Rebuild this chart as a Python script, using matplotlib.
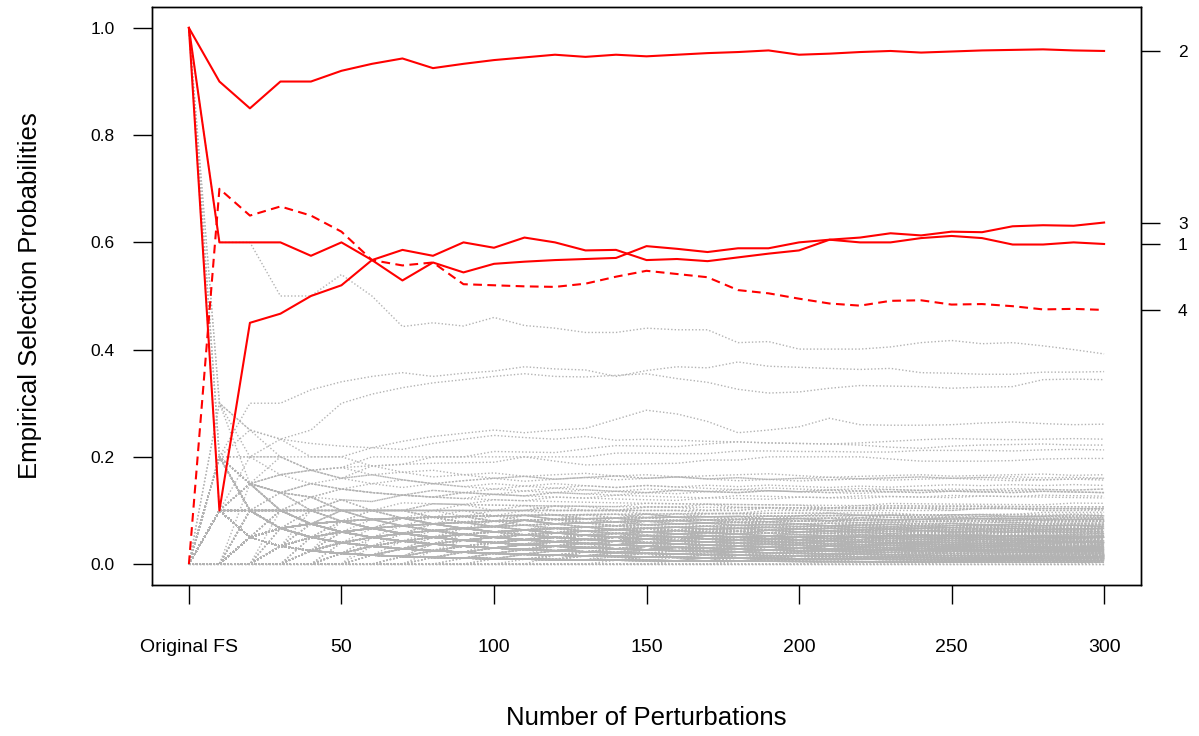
import numpy as np
import matplotlib
matplotlib.use("Agg")
import matplotlib.pyplot as plt

plt.rcParams['font.family'] = ['Liberation Sans', 'DejaVu Sans']

# ---------------- data ----------------
n_perturb = list(range(0, 301, 10))          # 0 = original feature selection
x_tick_pos = [0, 50, 100, 150, 200, 250, 300]
x_tick_labels = ["Original FS", "50", "100", "150", "200", "250", "300"]
y_ticks = [0.0, 0.2, 0.4, 0.6, 0.8, 1.0]
y_tick_labels = ["0.0", "0.2", "0.4", "0.6", "0.8", "1.0"]

red_names = ["1", "2", "3", "4"]
red_1 = [1.0, 0.6, 0.6, 0.6, 0.575, 0.6, 0.567, 0.529, 0.5625, 0.544, 0.56, 0.564,
         0.567, 0.569, 0.571, 0.593, 0.588, 0.582, 0.589, 0.589, 0.6, 0.605, 0.6,
         0.6, 0.608, 0.612, 0.608, 0.596, 0.596, 0.6, 0.597]
red_2 = [1.0, 0.9, 0.85, 0.9, 0.9, 0.92, 0.933, 0.943, 0.925, 0.933, 0.94, 0.945,
         0.95, 0.946, 0.95, 0.947, 0.95, 0.953, 0.955, 0.958, 0.95, 0.952, 0.955,
         0.957, 0.954, 0.956, 0.958, 0.959, 0.96, 0.958, 0.957]
red_3 = [1.0, 0.1, 0.45, 0.467, 0.5, 0.52, 0.567, 0.586, 0.575, 0.6, 0.59, 0.609,
         0.6, 0.585, 0.586, 0.567, 0.569, 0.565, 0.572, 0.579, 0.585, 0.605, 0.609,
         0.617, 0.613, 0.62, 0.619, 0.63, 0.632, 0.631, 0.637]
red_4 = [0.0, 0.7, 0.65, 0.667, 0.65, 0.62, 0.567, 0.557, 0.5625, 0.522, 0.52, 0.518,
         0.517, 0.523, 0.536, 0.547, 0.541, 0.535, 0.511, 0.505, 0.495, 0.486, 0.482,
         0.491, 0.492, 0.484, 0.485, 0.481, 0.475, 0.476, 0.474]
red_styles = ["solid", "solid", "solid", "dashed"]

# upper (clearly visible) grey features: selection probabilities
gray_upper = [
    [1.0, 0.6, 0.6, 0.5, 0.5, 0.54, 0.5, 0.443, 0.45, 0.444, 0.46, 0.445, 0.44, 0.432,
     0.432, 0.44, 0.437, 0.437, 0.413, 0.415, 0.401, 0.401, 0.401, 0.405, 0.413, 0.417,
     0.411, 0.413, 0.407, 0.4, 0.392],
    [0.0, 0.2, 0.3, 0.3, 0.325, 0.34, 0.35, 0.357, 0.35, 0.356, 0.36, 0.368, 0.364,
     0.362, 0.35, 0.361, 0.368, 0.366, 0.377, 0.369, 0.367, 0.365, 0.363, 0.365, 0.357,
     0.356, 0.354, 0.354, 0.358, 0.358, 0.359],
    [0.0, 0.1, 0.2, 0.233, 0.25, 0.3, 0.317, 0.329, 0.338, 0.344, 0.35, 0.355, 0.35,
     0.349, 0.352, 0.355, 0.346, 0.339, 0.326, 0.319, 0.321, 0.328, 0.333, 0.332, 0.331,
     0.328, 0.33, 0.331, 0.344, 0.345, 0.344],
    [0.0, 0.1, 0.15, 0.2, 0.2, 0.2, 0.217, 0.229, 0.238, 0.244, 0.25, 0.245, 0.25,
     0.253, 0.27, 0.287, 0.28, 0.266, 0.245, 0.25, 0.256, 0.272, 0.26, 0.259, 0.259,
     0.26, 0.263, 0.265, 0.262, 0.26, 0.261],
    [0.0, 0.2, 0.25, 0.233, 0.225, 0.22, 0.217, 0.214, 0.225, 0.233, 0.24, 0.236, 0.233,
     0.238, 0.231, 0.233, 0.231, 0.229, 0.228, 0.226, 0.225, 0.224, 0.226, 0.229, 0.232,
     0.234, 0.233, 0.232, 0.233, 0.234, 0.233],
    [0.0, 0.1, 0.15, 0.167, 0.175, 0.18, 0.2, 0.2, 0.2, 0.2, 0.21, 0.209, 0.208, 0.215,
     0.221, 0.22, 0.219, 0.224, 0.228, 0.226, 0.225, 0.224, 0.222, 0.218, 0.216, 0.22,
     0.222, 0.223, 0.224, 0.222, 0.222],
    [0.0, 0.3, 0.25, 0.233, 0.2, 0.2, 0.183, 0.186, 0.188, 0.189, 0.19, 0.2, 0.2, 0.2,
     0.207, 0.207, 0.206, 0.206, 0.211, 0.211, 0.21, 0.21, 0.209, 0.209, 0.212, 0.212,
     0.212, 0.211, 0.213, 0.214, 0.213],
    [0.0, 0.1, 0.15, 0.133, 0.15, 0.16, 0.183, 0.186, 0.2, 0.2, 0.2, 0.2, 0.192, 0.185,
     0.186, 0.187, 0.188, 0.194, 0.194, 0.2, 0.2, 0.2, 0.2, 0.196, 0.192, 0.192, 0.192,
     0.193, 0.196, 0.197, 0.197],
]

# remaining grey features: (selected in original FS, selections per block of 10 perturbations)
gray_counts = [
    (0, "2221122121" "2122121121" "2222121122"),
    (0, "1211211121" "1221211121" "2121121212"),
    (1, "3121221212" "1221121212" "1212211221"),
    (0, "1112112121" "2112121211" "2211212112"),
    (0, "0121212112" "1211212121" "1211211211"),
    (0, "2212111211" "1211121121" "1121211211"),
    (1, "1101211111" "1201111121" "1111210111"),
    (0, "2111011211" "1111211011" "1211111111"),
    (0, "1011121101" "2111011121" "1111121111"),
    (0, "0112111012" "1111111210" "2111111011"),
    (0, "1210111121" "1011211111" "1121111111"),
    (0, "2101110111" "1111012111" "1110111211"),
    (0, "1011101111" "1101111011" "1111011101"),
    (0, "0111111011" "1110111110" "1011111111"),
    (0, "1010110101" "1011010110" "1011011010"),
    (0, "0101101011" "0110101101" "0101101101"),
    (0, "1100101101" "0111010101" "1011010101"),
    (1, "2010101011" "0101110101" "1010110110"),
    (0, "0110011101" "1010101011" "0110101011"),
    (0, "1011011001" "1101011010" "1101010110"),
    (0, "0021010111" "1010111010" "1101101011"),
    (0, "1101010110" "0110110101" "1011011101"),
    (0, "1010111010" "1101101101" "1110110101"),
    (0, "0111010110" "1011101101" "1101111010"),
    (0, "1001010010" "1001010100" "1010010010"),
    (0, "0100101001" "0100100101" "0010101001"),
    (0, "1010010100" "1000101001" "0101001010"),
    (0, "0011001010" "0101001010" "1001010100"),
    (0, "0101000101" "0010100101" "0100101001"),
    (1, "2000100101" "0100100100" "1010010010"),
    (0, "0100110010" "1010010010" "0101001010"),
    (0, "1001001100" "1001001010" "1001010101"),
    (0, "0110010100" "1010100101" "0101010010"),
    (0, "1010101001" "0101010010" "1010101001"),
    (0, "0101010101" "0101001010" "1010100101"),
    (0, "1000101010" "1010101010" "0101010101"),
    (0, "1000100010" "0010001000" "1000100010"),
    (0, "0100010001" "0001000100" "0100010001"),
    (0, "0010001000" "1000100010" "0010001000"),
    (0, "1001000100" "0100010001" "0001000100"),
    (0, "0001001000" "1001000100" "1000010010"),
    (0, "0100100010" "0010010001" "0010010010"),
    (0, "2000010000" "1000010000" "1000100001"),
    (0, "0010000100" "0010001000" "0100001000"),
    (0, "1000001000" "0100000100" "0010000010"),
    (0, "0000100001" "0000100010" "0001000100"),
    (0, "0100001000" "0100010000" "1000010001"),
    (0, "1000010000" "0010000100" "0001000010"),
    (0, "0010010000" "1000010010" "0000100100"),
    (0, "0001000010" "0001000100" "0010001000"),
    (0, "1000000000" "0000100000" "0000000100"),
    (0, "0100000000" "0000000010" "0000010000"),
    (0, "0000100000" "0000001000" "0100000000"),
    (0, "0000000100" "0100000000" "0000001000"),
    (0, "0010000000" "0000000001" "0000100000"),
    (0, "0000010000" "0010000000" "0000000010"),
    (0, "1000000000" "0000000000" "0000000000"),
    (0, "0100000000" "0000000000" "0000000000"),
    (0, "0010000000" "0000000000" "0000001000"),
    (0, "0001000000" "0000000000" "0000000000"),
    (0, "0000000000" "0000000000" "0000000000"),
    (0, "0000100000" "0000000000" "0000000001"),
    (1, "2000000000" "0000000000" "0000000000"),
    (0, "1000000000" "0000000000" "0000000000"),
    (0, "1110101101" "0110110110" "1011011011"),
    (0, "0201011010" "1101011010" "1101101011"),
    (0, "1011100110" "1011010111" "0110111011"),
    (0, "0110111101" "1101110110" "1110110111"),
    (0, "1101111011" "0111101110" "1101111101"),
    (0, "2110111011" "1011110111" "0111111011"),
    (0, "1111011110" "1111101111" "1011111101"),
    (0, "0111111111" "1111101111" "1111111011"),
    (0, "1212111111" "1111111111" "0111111111"),
    (0, "1101011101" "0111011011" "1101110101"),
    (0, "0010101001" "0100101010" "1010010100"),
    (0, "1001010001" "0010100101" "0101001001"),
    (0, "0101001000" "1001001001" "0010100100"),
    (0, "1000101000" "1010010001" "0100100101"),
    (0, "0010010100" "0100100101" "0100100100"),
    (0, "0100100100" "1001001000" "1001001001"),
    (0, "1001001001" "0100100100" "1001001000"),
    (0, "0011000100" "1000110000" "0100100010"),
    (0, "1100010000" "1000100100" "0100010010"),
    (0, "0000110010" "0100010001" "1000100010"),
    (0, "2010001000" "0100100010" "0010010001"),
    (0, "0101000110" "0010100100" "0101000101"),
    (0, "0001000100" "0000100001" "0001000001"),
    (0, "1000000010" "0001000000" "0100000100"),
    (0, "0000010000" "0100000001" "0000010000"),
    (0, "0100000001" "0000010000" "0100000010"),
    (0, "0000100000" "0001000000" "0000000100"),
    (0, "0010000010" "0000000100" "0001000000"),
    (0, "1000010000" "0000000001" "0000100000"),
    (0, "0000001000" "1000000000" "0001000001"),
    (0, "0001000000" "0000001000" "0000000000"),
    (0, "0000000010" "0000000000" "0100000000"),
    (0, "0000000000" "0000010000" "0000000000"),
    (0, "0000000000" "0000000000" "0000000000"),
    (0, "0000000000" "0000000000" "0000100000"),
    (0, "1100000000" "0000000000" "0000000000"),
    (0, "1111201111" "2111112111" "1121111121"),
    (0, "2112111211" "1112111211" "1211121111"),
    (0, "1021112112" "1211112112" "1121211211"),
    (1, "3211211112" "1211211121" "1112112111"),
    (0, "1121211212" "2121212121" "1212212121"),
    (0, "2122121122" "1221221212" "2122122121"),
    (0, "1221122122" "2122212221" "1222122212"),
]

# the many rarely selected features (same encoding)
gray_counts_low = [
    (0, "1000000100" "0001000000" "0010000010"),
    (0, "0000001000" "0100000010" "0000100000"),
    (0, "0100000000" "0010000100" "0000000101"),
    (0, "0000100000" "0000100000" "1000000010"),
    (0, "1000001000" "0000000010" "0100000000"),
    (0, "0000000100" "0010000000" "0001001000"),
    (0, "0010000000" "1000000100" "0000010001"),
    (0, "0001000000" "0000010000" "1000000100"),
    (0, "0000010001" "0000000000" "0010000100"),
    (0, "1000000000" "1000001000" "0000100001"),
    (0, "0000000010" "0001000000" "0000000010"),
    (0, "0100001000" "0000000001" "0000100000"),
    (0, "0000000001" "0000100000" "0001000100"),
    (0, "0010000100" "0000000100" "0100000001"),
    (0, "1000000000" "0000000010" "0000100000"),
    (0, "0000100100" "0000000000" "1000001000"),
    (0, "0001000001" "0001000000" "0000000100"),
    (0, "0100000000" "0000100000" "0000000010"),
    (0, "0000001000" "0000000100" "0000100010"),
    (0, "1000100000" "0000000000" "0010000001"),
    (0, "0000000000" "1000000010" "0000000100"),
    (0, "0010000000" "0000000000" "0000010000"),
    (0, "0000010000" "0000000001" "0010000010"),
    (0, "0100000100" "0010000000" "1000000000"),
    (0, "0000000000" "0000000000" "1000000000"),
    (0, "1000000000" "0100000000" "0000000000"),
    (0, "0001000000" "0000000010" "0000001001"),
    (0, "0000000100" "0000001000" "0000000000"),
    (0, "0000100000" "1000000001" "0000000100"),
    (0, "0100010000" "0000100000" "0001000000"),
    (0, "1001000100" "0100100001" "0010010010"),
    (0, "0010100010" "0010001000" "1000100100"),
    (0, "1000010001" "0001001000" "0100010001"),
    (0, "0100100100" "0010000100" "1001000010"),
    (0, "0001001000" "1000100010" "0010001001"),
    (0, "1010000100" "0100010000" "1000100100"),
    (0, "0100010010" "0001000100" "0100100010"),
    (0, "0010001000" "1000010010" "0001000100"),
    (0, "1001001000" "0100100100" "0010010010"),
    (0, "0100001001" "0010010000" "1001000100"),
    (0, "2001000100" "0010100010" "0100010001"),
    (0, "0010010100" "1000100100" "0010100010"),
    (0, "1000100010" "0101000100" "1000100100"),
    (0, "0101000010" "0010001001" "0100100010"),
    (0, "0001010001" "0100100010" "1000101000"),
    (0, "1100100010" "0100010100" "1001001001"),
    (0, "0010101000" "1001000101" "0010100100"),
    (0, "1000100101" "0010010010" "1001001000"),
    (0, "0101001000" "1000101001" "0100010010"),
    (0, "1010010010" "0100100100" "0101001010"),
    (0, "0110001001" "0010100101" "0100101001"),
    (0, "1001010010" "1001001010" "0100100101"),
    (0, "0100101010" "0101001010" "1010010010"),
    (0, "2010010001" "0010010100" "1001001010"),
    (0, "0001100100" "1000010001" "0101001000"),
    (0, "1000010100" "0100101000" "1001010010"),
    (0, "0010100001" "0100010010" "1000100100"),
    (0, "0100010100" "1010001000" "0100010100"),
    (0, "1001000010" "0100100001" "0010010001"),
    (0, "0010010001" "0010001000" "1000100010"),
    (0, "1000001010" "0010010000" "0100010001"),
    (0, "0001010000" "1000100010" "0100100010"),
    (0, "0100100001" "0001001000" "1000010010"),
    (0, "1010000010" "0001000100" "0010001000"),
    (0, "0000101000" "1001000100" "0100100100"),
    (0, "0100010010" "0100100100" "1001001001"),
    (0, "1001001010" "0010010010" "0100100100"),
    (0, "0010100100" "1001001001" "0010010100"),
    (0, "0101001001" "0010100100" "1010010010"),
    (0, "1000110000" "0101000100" "0010100101"),
    (0, "1011001010" "0101010010" "1010101010"),
    (0, "0101010101" "1010010101" "0101010101"),
    (0, "1100101010" "0101101010" "1010010110"),
    (0, "0110010101" "1010101001" "0101101010"),
    (0, "1010101100" "0101010101" "1011010101"),
    (0, "0101100101" "1010101010" "0101011010"),
    (0, "2010101010" "1010101001" "0101010110"),
    (0, "1001011010" "0110100101" "1010101001"),
    (0, "0110101001" "0101010110" "1001010101"),
    (0, "1010010101" "1001101010" "0110100101"),
    (0, "0101010010" "1010010101" "0101010010"),
    (0, "1010100101" "0100101010" "1010100100"),
    (0, "0100101010" "1010100101" "0101001010"),
    (0, "1001010101" "0101001010" "1010010101"),
    (0, "0110100100" "1010101010" "0101010101"),
    (0, "1010101011" "0101101010" "1101010110"),
    (0, "0111010101" "1010110101" "0110101101"),
    (0, "1101011010" "1011010101" "1010110101"),
    (0, "0101101101" "0110101011" "0101101011"),
    (0, "1011010110" "1101011010" "1011011010"),
    (0, "2101011010" "0110101101" "1010110110"),
    (0, "0110110101" "1011010110" "1101011011"),
    (0, "1010110110" "1011011011" "0110110110"),
    (0, "1101101011" "0110110101" "1011011010"),
    (0, "0101011011" "1010110101" "1101011010"),
    (0, "1010100110" "0101010101" "0101010101"),
    (0, "0101001101" "0101010101" "1010101010"),
    (0, "1100100101" "0101001101" "0101010101"),
    (0, "0011010101" "0101011010" "1010101001"),
    (0, "1010011001" "0101010101" "1010100110"),
    (0, "0101010101" "1001010101" "0110101011"),
    (0, "1001101010" "0110101010" "1011010101"),
    (0, "0110010110" "1010101010" "1010010101"),
    (0, "1010101001" "0101010110" "0101101010"),
    (0, "1011010101" "0101011010" "1010110101"),
    (0, "1101101111" "0111011101" "1011101110"),
    (0, "0111011101" "1101110111" "0111011101"),
    (0, "1110111011" "1011101110" "1110111011"),
    (0, "1011101110" "1110111011" "1011101111"),
    (0, "2101110111" "0111011101" "1101110111"),
    (0, "1111011101" "1101111011" "1011110111"),
    (0, "0111110111" "1011111011" "1110111110"),
    (0, "1101111110" "1111011111" "0111101111"),
    (0, "1011111101" "1101111101" "1111011110"),
    (0, "2111011111" "1011111101" "1111101111"),
    (0, "1111111011" "1111011111" "1101111111"),
    (0, "0111111111" "1101111111" "1111110111"),
    (0, "1121011111" "1111110111" "1011111111"),
    (0, "1011011011" "0110110110" "1101101101"),
    (0, "0110110110" "1101101101" "0110110110"),
    (0, "1101101101" "1011011011" "1011011011"),
    (0, "1110110110" "1101101101" "1011011011"),
    (0, "2110101101" "1011011011" "0110110111"),
    (0, "1011011010" "1101101101" "1101101101"),
    (0, "0111011011" "1011011011" "0110110111"),
    (0, "0200010020" "0001200010" "0300001002"),
    (0, "0010300100" "2000010010" "0001020001"),
    (0, "1002000010" "0020001000" "1000300010"),
    (0, "0000200100" "1002000001" "0020010200"),
    (0, "3000010000" "0200000100" "0010002000"),
    (0, "0100002000" "0010000200" "1000000100"),
    (0, "0020000100" "0000200000" "0100010001"),
    (0, "2001000000" "1000020000" "0002000100"),
    (0, "0002010000" "0100000020" "0000100020"),
    (0, "1000200010" "0300000100" "0001002000"),
    (0, "0200102000" "0010200100" "2000100020"),
    (0, "0120010200" "1000210010" "0200100201"),
    (0, "1020102010" "2010100201" "0201020100"),
    (0, "2102010210" "1020201020" "1201020102"),
    (0, "0210201020" "2010210201" "0210201020"),
    (0, "1201020120" "1020120102" "2010210120"),
    (0, "0030100200" "1000300100" "0200100300"),
    (0, "1003000200" "0100200010" "0030001002"),
    (0, "0000030000" "0200000010" "0000300000"),
    (0, "0100000000" "0020000000" "0000000200"),
    (0, "0000000200" "0000001000" "0200000000"),
    (0, "2000000000" "0000200000" "0000000010"),
    (0, "0001000000" "0000000200" "0001000100"),
    (0, "0000020000" "0100000000" "0000020000"),
    (0, "0300000000" "0000000100" "0000000000"),
    (0, "0000000000" "0200000000" "0000000100"),
    (0, "0000001000" "0000000000" "0000000002"),
    (0, "1000000000" "0000000000" "0000200000"),
    (0, "0000000000" "0000000100" "0000000000"),
    (0, "0000000001" "0000000000" "0000000000"),
    (0, "0200100020" "0100200100" "0020010020"),
    (0, "1020010001" "2001002001" "0100200101"),
    (0, "0102001020" "0100201002" "1020010200"),
    (0, "2010020100" "1002001020" "0201002010"),
    (0, "1200102001" "2010210100" "1020102010"),
    (0, "0021012010" "2012010210" "1201201201"),
    (0, "2101201210" "1210210121" "0121021012"),
    (0, "1010200101" "0201010020" "1002010100"),
    (0, "0101002001" "0020100010" "2000100200"),
    (0, "1000100020" "0010020000" "0100010002"),
    (0, "0010000200" "1000010000" "0002000100"),
    (0, "0000100000" "0002000000" "1000000100"),
    (0, "0200000100" "0000000001" "0000200000"),
    (0, "0001000200" "0100000000" "0010001000"),
    (0, "1000000001" "0000010000" "0000000010"),
    (0, "0000200000" "0000000000" "0001000000"),
    (0, "0010000000" "0000000200" "0000000001"),
    (0, "0000001000" "0010000000" "0000000000"),
    (0, "0100000000" "0000000000" "0000100010"),
    (0, "0000000000" "0000000000" "0000000001"),
    (0, "2010001010" "0100201001" "1001002010"),
    (0, "0102010001" "1010020100" "0100101020"),
    (0, "1001020010" "0110010020" "0201001001"),
    (0, "0020101001" "0201001010" "1010200100"),
    (0, "1100200100" "0011002001" "1002001100"),
    (0, "0100201010" "1002010100" "0010201001"),
    (0, "2001001001" "0100120010" "0100100201"),
    (0, "0210010010" "1001002001" "0201010010"),
    (0, "1001100200" "0100201001" "1010010020"),
    (0, "0010102010" "1000201010" "0101020001"),
    (0, "1020001001" "0100100200" "1000201000"),
    (0, "0100200100" "1010001001" "0020010100"),
    (0, "2000100100" "0100020010" "1001000200"),
    (0, "0010010200" "1000200100" "0100010020"),
    (0, "1000201000" "0020001001" "0001200100"),
    (0, "0200010010" "0100100020" "1000020010"),
    (0, "0011000200" "1000100100" "0200010010"),
    (0, "1000020010" "0001001000" "2000100100"),
    (0, "0100100002" "0010010000" "0100200010"),
    (0, "0002001000" "1000010010" "0010001000"),
    (0, "1010101020" "1201010110" "1020110101"),
    (0, "0201110102" "1010201011" "0110201010"),
    (0, "1102010110" "0110201101" "1011020110"),
    (0, "2011010201" "1020110101" "0201101101"),
    (0, "1110201010" "2101011010" "1010211010"),
    (0, "0211011102" "1101201101" "1120101110"),
    (0, "1201101110" "1011201101" "1110120101"),
    (0, "1011201011" "2011011012" "1101110211"),
    (0, "0102011010" "1020101011" "1011010201"),
    (0, "1010201100" "1101010201" "0110102011"),
]

gray_counts_rare = [
    (0, "0100020000" "1001000100" "0001000010"),
    (0, "1000001000" "0100100001" "0010010000"),
    (0, "0002000010" "0000101000" "0100000100"),
    (0, "0010100000" "0200000010" "1000010000"),
    (0, "1000010001" "0000200000" "0100001000"),
    (0, "0001000100" "0100001000" "0020000001"),
    (0, "0100100010" "0001000001" "0100100000"),
    (0, "2000000100" "0010000100" "0001000010"),
    (0, "0000101000" "0010000010" "1000100000"),
    (0, "0010000010" "1000100000" "0001000100"),
    (0, "1010010100" "0100101001" "0010100101"),
    (0, "0101001010" "1010010010" "0101001001"),
    (0, "1001010100" "0010100101" "1001001010"),
    (0, "0100110010" "0101001010" "0100101001"),
    (0, "1010100100" "1001010010" "0010101010"),
    (0, "0011010010" "1010010100" "1001010010"),
    (0, "2001010010" "0100101001" "0101010010"),
    (0, "1100101001" "0010100101" "0101001010"),
    (0, "0101010100" "1001010101" "0100101010"),
    (0, "1010101010" "0101010100" "1010101010"),
    (0, "0100010000" "0010000100" "0000010000"),
    (0, "0000100010" "0000010000" "0100000100"),
    (0, "1000000100" "0001000000" "0000100001"),
    (0, "0010000001" "0000100000" "1000000100"),
    (0, "0001000000" "1000000100" "0000010000"),
    (0, "0000010000" "0000000100" "0010000000"),
    (0, "0100000010" "0000000000" "0001000000"),
    (0, "0000000000" "0001000000" "0000000000"),
    (0, "0000000100" "0000000000" "0000000000"),
    (0, "1001000010" "0010010000" "0100001001"),
    (0, "0110100101" "1010010110" "1001011010"),
    (0, "1011001010" "0101101001" "0110100101"),
    (0, "0101101001" "1010011010" "1010100110"),
    (0, "1100101010" "0101100101" "0101011001"),
    (0, "0101011010" "1011010101" "0101101011"),
    (0, "1010110101" "0101101010" "1011010101"),
    (0, "0110101011" "0101101101" "1011010110"),
    (0, "1101010110" "1010110101" "0110101101"),
    (0, "0010001000" "0100010000" "1000001000"),
    (0, "0100000100" "0001000010" "0010000100"),
]

# ---------------- figure ----------------
W, H = 1199, 736
fig = plt.figure(figsize=(W / 100, H / 100), dpi=100)
L, R, T, B = 152, 1141, 7, 585
ax = fig.add_axes([L / W, 1 - B / H, (R - L) / W, (B - T) / H])

x = np.array(n_perturb, dtype=float)
gray_col = "#b3b3b3"
gray_kw = dict(color=gray_col, lw=1.0, linestyle=(0, (1.0, 1.5)), dash_capstyle="butt")

for orig, s in gray_counts + gray_counts_low + gray_counts_rare:
    inc = np.array([int(c) for c in s], dtype=float)
    vals = np.concatenate([[orig], np.cumsum(inc) / x[1:len(inc) + 1]])
    ax.plot(x[:len(vals)], vals, **gray_kw)
for vals in gray_upper:
    ax.plot(x[:len(vals)], vals, **gray_kw)

reds = [red_1, red_2, red_3, red_4]
for vals, st in zip(reds, red_styles):
    if st == "dashed":
        ax.plot(x, vals, color="#ff0000", lw=1.5, linestyle=(0, (4.2, 2.6)))
    else:
        ax.plot(x, vals, color="#ff0000", lw=1.5, linestyle="-")

ax.set_xlim(-12.1, 312.1)
ax.set_ylim(-0.039, 1.039)

for sp in ax.spines.values():
    sp.set_linewidth(1.0)
    sp.set_color("black")

ax.set_xticks(x_tick_pos)
ax.set_xticklabels(x_tick_labels, fontsize=14)
ax.set_yticks(y_ticks)
ax.set_yticklabels(y_tick_labels, fontsize=12.5)
ax.tick_params(axis="x", length=13.7, width=1.0, pad=25, direction="out")
ax.tick_params(axis="y", length=13.7, width=1.0, pad=13, direction="out")

ax2 = ax.twinx()
ax2.set_ylim(ax.get_ylim())
ax2.set_yticks([v[-1] for v in reds])
ax2.set_yticklabels(red_names, fontsize=12.5)
ax2.tick_params(axis="y", length=13.7, width=1.0, pad=13, direction="out")
for sp in ax2.spines.values():
    sp.set_linewidth(1.0)

fig.text(646.5 / W, 1 - 718 / H, "Number of Perturbations", fontsize=18.5,
         ha="center", va="center")
fig.text(30 / W, 1 - 296 / H, "Empirical Selection Probabilities", fontsize=18.5,
         ha="center", va="center", rotation=90)

fig.savefig("out.png", dpi=100)
